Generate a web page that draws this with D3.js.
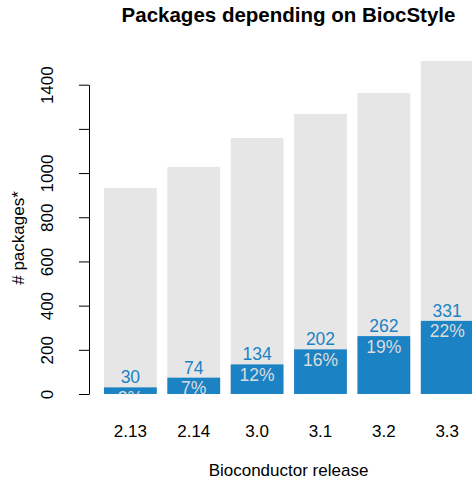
<!DOCTYPE html>
<html>
<head>
<meta charset="utf-8">
<script src="https://cdn.jsdelivr.net/npm/d3@7"></script>
<style>
  body { margin: 0; background: #fff; }
  svg { font-family: "Liberation Sans", Arial, Helvetica, sans-serif; }
</style>
</head>
<body>
<div id="chart"></div>
<script>
// data
var releases = ["2.13", "2.14", "3.0", "3.1", "3.2", "3.3"];
var totals = [932, 1028, 1159, 1268, 1363, 1507];
var biocstyle = [30, 74, 134, 202, 262, 331];
var yTicks = [0, 200, 400, 600, 800, 1000, 1200, 1400];
var yTickLabels = ["0", "200", "400", "600", "800", "1000", "", "1400"];

var W = 472, H = 480;
var blue = "#1b82c4", grey = "#e6e6e6";

var svg = d3.select("#chart").append("svg")
    .attr("width", W)
    .attr("height", H);

// plot region (R style: it runs past the right edge of the picture)
var plot = { left: 89, right: 488, top: 50, bottom: 394 };

var x = d3.scaleBand()
    .domain(releases)
    .range([98.7, 478.9])
    .paddingInner(1 / 6)
    .paddingOuter(1 / 12);

var y = d3.scaleLinear()
    .domain([0, 1400])
    .range([394, 84.7]);

svg.append("clipPath").attr("id", "plotclip")
  .append("rect")
    .attr("x", plot.left)
    .attr("y", 0)
    .attr("width", plot.right - plot.left)
    .attr("height", plot.bottom + 1);

var g = svg.append("g").attr("clip-path", "url(#plotclip)");

var rows = releases.map(function (r, i) {
  return { release: r, total: totals[i], n: biocstyle[i] };
});

// total bars
g.selectAll(".total").data(rows).enter().append("rect")
    .attr("class", "total")
    .attr("x", function (d) { return x(d.release); })
    .attr("width", x.bandwidth())
    .attr("y", function (d) { return y(d.total); })
    .attr("height", function (d) { return y(0) - y(d.total); })
    .attr("fill", grey);

// BiocStyle bars
g.selectAll(".dep").data(rows).enter().append("rect")
    .attr("class", "dep")
    .attr("x", function (d) { return x(d.release); })
    .attr("width", x.bandwidth())
    .attr("y", function (d) { return y(d.n); })
    .attr("height", function (d) { return y(0) - y(d.n); })
    .attr("fill", blue);

// counts above the blue bars
g.selectAll(".count").data(rows).enter().append("text")
    .attr("class", "count")
    .attr("x", function (d) { return x(d.release) + x.bandwidth() / 2; })
    .attr("y", function (d) { return y(d.n) - 4; })
    .attr("text-anchor", "middle")
    .attr("font-size", "17.5px")
    .attr("fill", blue)
    .text(function (d) { return d.n; });

// percentages inside
g.selectAll(".pct").data(rows).enter().append("text")
    .attr("class", "pct")
    .attr("x", function (d) { return x(d.release) + x.bandwidth() / 2; })
    .attr("y", function (d) { return y(d.n) + 16.5; })
    .attr("text-anchor", "middle")
    .attr("font-size", "17.5px")
    .attr("fill", "#dcdcdc")
    .text(function (d) { return Math.round(100 * d.n / d.total) + "%"; });

// y axis
var yaxis = svg.append("g")
    .attr("transform", "translate(" + plot.left + ",0)")
    .call(d3.axisLeft(y)
      .tickValues(yTicks)
      .tickSize(10)
      .tickSizeOuter(0)
      .tickFormat(function (d, i) { return yTickLabels[i]; }));
yaxis.select(".domain").attr("stroke", "#000");
yaxis.selectAll(".tick line").attr("stroke", "#000");
yaxis.selectAll(".tick text")
    .attr("font-size", "17px")
    .attr("font-family", "Liberation Sans, Arial, sans-serif")
    .attr("fill", "#000")
    .attr("text-anchor", "middle")
    .attr("x", 0)
    .attr("y", 0)
    .attr("transform", "translate(-48,0) rotate(-90)")
    .attr("dy", "0.71em");

// x labels (no axis line, like barplot names)
svg.selectAll(".xlab").data(releases).enter().append("text")
    .attr("class", "xlab")
    .attr("x", function (d) { return x(d) + x.bandwidth() / 2; })
    .attr("y", 437)
    .attr("text-anchor", "middle")
    .attr("font-size", "17px")
    .text(function (d) { return d; });

// titles
svg.append("text")
    .attr("x", (plot.left + plot.right) / 2)
    .attr("y", 22)
    .attr("text-anchor", "middle")
    .attr("font-size", "20.5px")
    .attr("font-weight", "bold")
    .text("Packages depending on BiocStyle");

svg.append("text")
    .attr("x", (plot.left + plot.right) / 2)
    .attr("y", 476)
    .attr("text-anchor", "middle")
    .attr("font-size", "17px")
    .text("Bioconductor release");

svg.append("text")
    .attr("transform", "translate(24,238) rotate(-90)")
    .attr("text-anchor", "middle")
    .attr("font-size", "17px")
    .text("# packages*");
</script>
</body>
</html>
